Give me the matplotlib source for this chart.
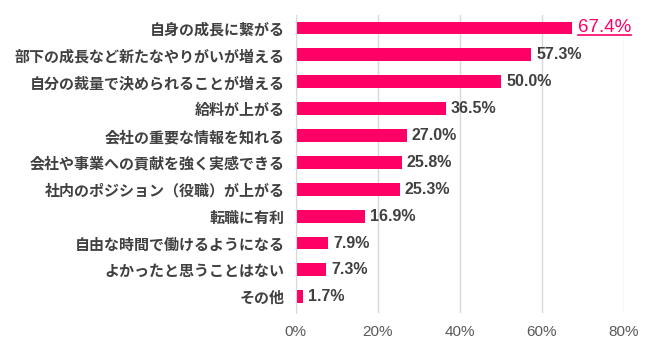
import matplotlib
matplotlib.use("Agg")
import matplotlib.pyplot as plt
import numpy as np

plt.rcParams['font.family'] = ['Noto Sans CJK JP', 'DejaVu Sans']

labels = [
    "自身の成長に繋がる",
    "部下の成長など新たなやりがいが増える",
    "自分の裁量で決められることが増える",
    "給料が上がる",
    "会社の重要な情報を知れる",
    "会社や事業への貢献を強く実感できる",
    "社内のポジション（役職）が上がる",
    "転職に有利",
    "自由な時間で働けるようになる",
    "よかったと思うことはない",
    "その他",
]
values = [67.4, 57.3, 50.0, 36.5, 27.0, 25.8, 25.3, 16.9, 7.9, 7.3, 1.7]
xticks = [0, 20, 40, 60, 80]

pink = "#FF0066"
dark = "#404040"
grey = "#595959"
num_font = ['Liberation Sans', 'DejaVu Sans']

fig = plt.figure(figsize=(6.5, 3.5), dpi=100)
ax = fig.add_axes([0.455, 0.106, 0.505, 0.851])

y = np.arange(len(labels))
ax.barh(y, values, height=0.48, color=pink, zorder=3)

ax.set_xlim(0, 80)
ax.set_ylim(10.6, -0.48)
ax.set_xticks(xticks)
ax.set_xticklabels([f"{t}%" for t in xticks], color=grey, fontsize=11,
                   family=num_font)
ax.set_yticks(y)
ax.set_yticklabels(labels, color=dark, fontsize=10.8, fontweight="bold")
ax.tick_params(axis="y", length=0, pad=8)
ax.tick_params(axis="x", length=0, pad=9)
ax.grid(axis="x", color="#d9d9d9", linewidth=1, zorder=0)
for s in ["top", "right", "bottom"]:
    ax.spines[s].set_visible(False)
ax.spines["left"].set_color("#d9d9d9")
ax.spines["left"].set_zorder(4)

texts = []
for i, v in enumerate(values):
    if i == 0:
        t = ax.text(v + 1.3, i, f"{v:.1f}%", va="center", ha="left",
                    color=pink, fontsize=13.5, family=num_font)
        texts.append(t)
    else:
        ax.text(v + 1.3, i, f"{v:.1f}%", va="center", ha="left",
                color=dark, fontsize=11.5, fontweight="bold", family=num_font)

# underline the highlighted label
fig.canvas.draw()
r = fig.canvas.get_renderer()
for t in texts:
    bb = t.get_window_extent(renderer=r).transformed(fig.transFigure.inverted())
    fig.add_artist(plt.Line2D([bb.x0, bb.x1], [bb.y0 + 0.004, bb.y0 + 0.004],
                              color=pink, linewidth=1.2, transform=fig.transFigure))

fig.savefig("out.png", dpi=100)
